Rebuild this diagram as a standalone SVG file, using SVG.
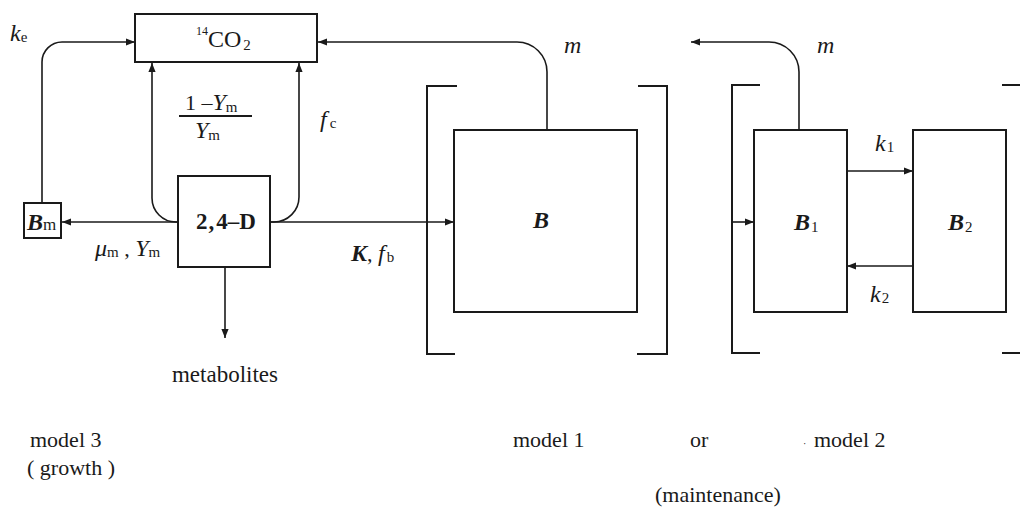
<svg xmlns="http://www.w3.org/2000/svg" width="1020" height="515" viewBox="0 0 1020 515">
<defs>
<marker id="ah" viewBox="0 0 10 10" refX="10" refY="5" markerWidth="9" markerHeight="9" markerUnits="userSpaceOnUse" orient="auto">
<path d="M0,1 L10,5 L0,9 Z" fill="#1a1a1a"/>
</marker>
<style>
.box{fill:#fff;stroke:#1a1a1a;stroke-width:2}
.ln{fill:none;stroke:#1a1a1a;stroke-width:2}
.ar{fill:none;stroke:#1a1a1a;stroke-width:1.6;marker-end:url(#ah)}
.t{font-family:"Liberation Serif",serif;fill:#1a1a1a;font-size:22px}
.i{font-style:italic}
.b{font-weight:bold}
.sub{font-size:15px}
.big{font-size:24px}
</style>
</defs>
<rect width="1020" height="515" fill="#fff"/>
<g id="connectors">
<path class="ar" d="M42,203 V62 A20,20 0 0 1 62,42 H135"/>
<path class="ar" d="M178,222 H176 A24,24 0 0 1 152,198 V63"/>
<path class="ar" d="M270,222 H274 A25,25 0 0 0 299,197 V63"/>
<path class="ar" d="M178,222 H62"/>
<path class="ar" d="M270,222 H454"/>
<path class="ar" d="M225,267 V338"/>
<path class="ar" d="M547,130 V72 A30,30 0 0 0 517,42 H318"/>
<path class="ar" d="M799,130 V72 A30,30 0 0 0 769,42 H691"/>
<path class="ar" d="M733,222 H754"/>
<path class="ar" d="M847,171 H913"/>
<path class="ar" d="M913,266 H847"/>
</g>
<g id="brackets">
<path class="ln" d="M457,86 H427 V354 H455"/>
<path class="ln" d="M638,86 H667 V354 H637"/>
<path class="ln" d="M760,85 H732 V353 H760"/>
<path class="ln" d="M1002,85 H1020 M1002,353 H1020"/>
</g>
<g id="co2">
<rect class="box" x="135" y="14" width="182" height="48"/>
<text class="t" x="196" y="35" style="font-size:12px">14</text>
<text class="t" x="208" y="47" style="font-size:24px">CO<tspan class="sub" dy="3" dx="2">2</tspan></text>
</g>
<g id="d24">
<rect class="box" x="178" y="176" width="92" height="91"/>
<text class="t b" x="196" y="229" style="font-size:23px">2<tspan dx="1">,</tspan><tspan dx="2">4–D</tspan></text>
</g>
<g id="bm">
<rect class="box" x="24" y="203" width="37" height="35"/>
<text class="t" x="27" y="230"><tspan class="i b big">B</tspan><tspan style="font-size:17px">m</tspan></text>
</g>
<g id="b">
<rect class="box" x="454" y="130" width="183" height="182"/>
<text class="t i b big" x="533" y="228">B</text>
</g>
<g id="b1">
<rect class="box" x="754" y="130" width="93" height="182"/>
<text class="t" x="794" y="230"><tspan class="i b big">B</tspan><tspan class="sub" dx="1" dy="2">1</tspan></text>
</g>
<g id="b2">
<rect class="box" x="913" y="130" width="93" height="182"/>
<text class="t" x="948" y="230"><tspan class="i b big">B</tspan><tspan class="sub" dx="1" dy="2">2</tspan></text>
</g>
<g id="labels">
<text class="t" x="10" y="41"><tspan class="i big">k</tspan><tspan class="sub" dy="1">e</tspan></text>
<text class="t" x="185" y="110">1 –<tspan class="i big">Y</tspan><tspan class="sub" dy="2">m</tspan></text>
<line x1="179" y1="116" x2="252" y2="116" stroke="#1a1a1a" stroke-width="1.8"/>
<text class="t" x="195" y="138"><tspan class="i big">Y</tspan><tspan class="sub" dy="2">m</tspan></text>
<text class="t" x="320" y="127"><tspan class="i big">f</tspan><tspan class="sub" dx="3" dy="1">c</tspan></text>
<text class="t" x="95" y="256"><tspan class="i big">μ</tspan><tspan class="sub" dy="1">m</tspan><tspan dy="-1"> , </tspan><tspan class="i big">Y</tspan><tspan class="sub" dy="1">m</tspan></text>
<text class="t" x="351" y="261"><tspan class="i b big">K</tspan>, <tspan class="i big">f</tspan><tspan class="sub" dx="2" dy="1">b</tspan></text>
<text class="t i big" x="564" y="53">m</text>
<text class="t i big" x="817" y="53">m</text>
<text class="t" x="875" y="151"><tspan class="i big">k</tspan><tspan class="sub" dx="1" dy="1">1</tspan></text>
<text class="t" x="870" y="302"><tspan class="i big">k</tspan><tspan class="sub" dx="1" dy="1">2</tspan></text>
<text class="t" x="225" y="382" text-anchor="middle" style="font-size:23px">metabolites</text>
<text class="t" x="30" y="447">model 3</text>
<text class="t" x="27" y="475">( growth )</text>
<text class="t" x="513" y="447">model 1</text>
<text class="t" x="690" y="447">or</text>
<text class="t" x="803" y="447" style="font-size:10px">·</text>
<text class="t" x="814" y="447">model 2</text>
<text class="t" x="655" y="502">(maintenance)</text>
</g>
</svg>
